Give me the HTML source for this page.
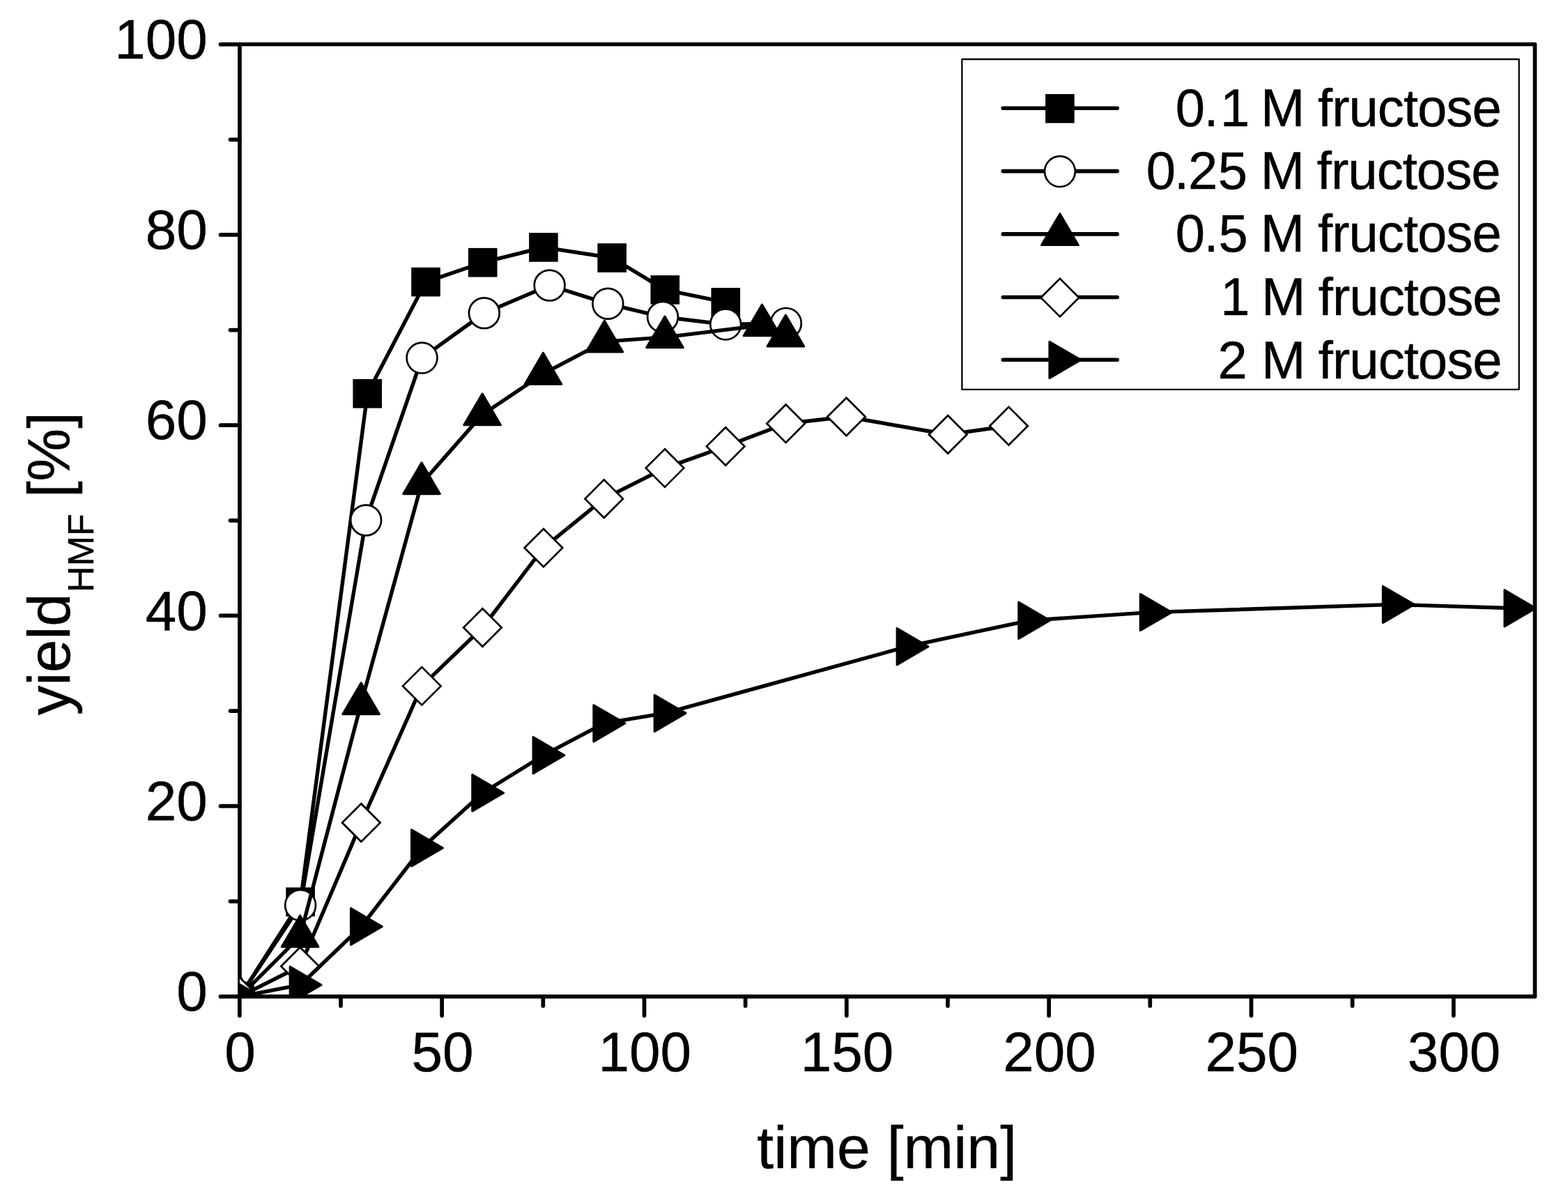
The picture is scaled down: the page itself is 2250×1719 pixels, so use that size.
<!DOCTYPE html>
<html><head><meta charset="utf-8"><title>HMF yield vs time</title>
<style>
html,body{margin:0;padding:0;background:#fff;}
svg{display:block;}
text{font-family:"Liberation Sans",Arial,sans-serif;fill:#000;stroke:#000;stroke-width:0.45px;}
</style></head><body>
<svg width="2250" height="1719" viewBox="0 0 2250 1719">
<rect x="0" y="0" width="2250" height="1719" fill="#fff"/>
<defs><clipPath id="pc"><rect x="344" y="64" width="1858" height="1366"/></clipPath></defs>

<rect x="343.95" y="63.5" width="1858.55" height="1366.4" fill="none" stroke="#000" stroke-width="5.7" stroke-linejoin="round"/>
<path d="M343.8 1429.9V1457.3M634.13 1429.9V1457.3M924.47 1429.9V1457.3M1214.81 1429.9V1457.3M1505.14 1429.9V1457.3M1795.47 1429.9V1457.3M2085.81 1429.9V1457.3M488.97 1429.9V1443.3M779.3 1429.9V1443.3M1069.64 1429.9V1443.3M1359.97 1429.9V1443.3M1650.31 1429.9V1443.3M1940.64 1429.9V1443.3M343.95 1429.9H316.55M343.95 1156.66H316.55M343.95 883.42H316.55M343.95 610.18H316.55M343.95 336.94H316.55M343.95 63.7H316.55M343.95 1293.28H330.55M343.95 1020.04H330.55M343.95 746.8H330.55M343.95 473.56H330.55M343.95 200.32H330.55" fill="none" stroke="#000" stroke-width="5.7" stroke-linecap="round"/>
<g clip-path="url(#pc)">
<polyline fill="none" stroke="#000" stroke-width="5.4" stroke-linejoin="round" stroke-linecap="round" points="344,1430 431.1,1294.2 527.2,564.8 611,404.6 692.7,376.7 779.9,354.9 878.2,370 954.3,415.9 1041.3,433.8"/>
<g fill="#000"><rect x="323.2" y="1409.2" width="41.6" height="41.6"/><rect x="410.3" y="1273.4" width="41.6" height="41.6"/><rect x="506.4" y="544" width="41.6" height="41.6"/><rect x="590.2" y="383.8" width="41.6" height="41.6"/><rect x="671.9" y="355.9" width="41.6" height="41.6"/><rect x="759.1" y="334.1" width="41.6" height="41.6"/><rect x="857.4" y="349.2" width="41.6" height="41.6"/><rect x="933.5" y="395.1" width="41.6" height="41.6"/><rect x="1020.5" y="413" width="41.6" height="41.6"/></g>
<polyline fill="none" stroke="#000" stroke-width="5.4" stroke-linejoin="round" stroke-linecap="round" points="344,1430 431.1,1298.9 525.1,746.5 605.5,513.6 694.8,449.3 788.6,409.5 872.3,435.8 951,454.8 1041.2,465.4 1127.9,463.9"/>
<g fill="#fff" stroke="#000" stroke-width="2.7"><circle cx="344" cy="1430" r="21.9"/><circle cx="431.1" cy="1298.9" r="21.9"/><circle cx="525.1" cy="746.5" r="21.9"/><circle cx="605.5" cy="513.6" r="21.9"/><circle cx="694.8" cy="449.3" r="21.9"/><circle cx="788.6" cy="409.5" r="21.9"/><circle cx="872.3" cy="435.8" r="21.9"/><circle cx="951" cy="454.8" r="21.9"/><circle cx="1041.2" cy="465.4" r="21.9"/><circle cx="1127.9" cy="463.9" r="21.9"/></g>
<polyline fill="none" stroke="#000" stroke-width="5.4" stroke-linejoin="round" stroke-linecap="round" points="344,1430 430.6,1343.6 518.1,1009.8 605,693.7 692.1,594.9 779.4,536.3 867.4,490.1 954,483.9 1093.5,466.9 1127.4,482"/>
<g fill="#000" stroke="#000" stroke-width="3" stroke-linejoin="round"><polygon points="344,1400.07 370.3,1444.97 317.7,1444.97"/><polygon points="430.6,1313.67 456.9,1358.57 404.3,1358.57"/><polygon points="518.1,979.87 544.4,1024.77 491.8,1024.77"/><polygon points="605,663.77 631.3,708.67 578.7,708.67"/><polygon points="692.1,564.97 718.4,609.87 665.8,609.87"/><polygon points="779.4,506.37 805.7,551.27 753.1,551.27"/><polygon points="867.4,460.17 893.7,505.07 841.1,505.07"/><polygon points="954,453.97 980.3,498.87 927.7,498.87"/><polygon points="1093.5,436.97 1119.8,481.87 1067.2,481.87"/><polygon points="1127.4,452.07 1153.7,496.97 1101.1,496.97"/></g>
<polyline fill="none" stroke="#000" stroke-width="5.4" stroke-linejoin="round" stroke-linecap="round" points="344,1430 430.6,1386.5 518.3,1180.5 605.3,984.4 692.4,900.5 779.9,786.1 866.7,715.7 954,671.6 1041.2,640.5 1127.6,607.8 1214.5,598 1360.2,623.5 1447.5,611.2"/>
<g fill="#fff" stroke="#000" stroke-width="2.7" stroke-linejoin="miter"><polygon points="344,1402.7 371.3,1430 344,1457.3 316.7,1430"/><polygon points="430.6,1359.2 457.9,1386.5 430.6,1413.8 403.3,1386.5"/><polygon points="518.3,1153.2 545.6,1180.5 518.3,1207.8 491,1180.5"/><polygon points="605.3,957.1 632.6,984.4 605.3,1011.7 578,984.4"/><polygon points="692.4,873.2 719.7,900.5 692.4,927.8 665.1,900.5"/><polygon points="779.9,758.8 807.2,786.1 779.9,813.4 752.6,786.1"/><polygon points="866.7,688.4 894,715.7 866.7,743 839.4,715.7"/><polygon points="954,644.3 981.3,671.6 954,698.9 926.7,671.6"/><polygon points="1041.2,613.2 1068.5,640.5 1041.2,667.8 1013.9,640.5"/><polygon points="1127.6,580.5 1154.9,607.8 1127.6,635.1 1100.3,607.8"/><polygon points="1214.5,570.7 1241.8,598 1214.5,625.3 1187.2,598"/><polygon points="1360.2,596.2 1387.5,623.5 1360.2,650.8 1332.9,623.5"/><polygon points="1447.5,583.9 1474.8,611.2 1447.5,638.5 1420.2,611.2"/></g>
<polyline fill="none" stroke="#000" stroke-width="5.4" stroke-linejoin="round" stroke-linecap="round" points="344,1430 431.1,1413.2 518.4,1329.5 605.5,1216.8 692.7,1137.8 780,1083.7 866.8,1037.9 954.1,1023.4 1302.1,927.7 1476.7,890.3 1651.2,878.6 1999.3,867.4 2173.9,872.7"/>
<g fill="#000" stroke="#000" stroke-width="3" stroke-linejoin="round"><polygon points="329.03,1403.8 373.93,1430 329.03,1456.2"/><polygon points="416.13,1387 461.03,1413.2 416.13,1439.4"/><polygon points="503.43,1303.3 548.33,1329.5 503.43,1355.7"/><polygon points="590.53,1190.6 635.43,1216.8 590.53,1243"/><polygon points="677.73,1111.6 722.63,1137.8 677.73,1164"/><polygon points="765.03,1057.5 809.93,1083.7 765.03,1109.9"/><polygon points="851.83,1011.7 896.73,1037.9 851.83,1064.1"/><polygon points="939.13,997.2 984.03,1023.4 939.13,1049.6"/><polygon points="1287.13,901.5 1332.03,927.7 1287.13,953.9"/><polygon points="1461.73,864.1 1506.63,890.3 1461.73,916.5"/><polygon points="1636.23,852.4 1681.13,878.6 1636.23,904.8"/><polygon points="1984.33,841.2 2029.23,867.4 1984.33,893.6"/><polygon points="2158.93,846.5 2203.83,872.7 2158.93,898.9"/></g>
</g>
<g font-size="80"><text x="344.6" y="1536.8" text-anchor="middle">0</text><text x="634.93" y="1536.8" text-anchor="middle">50</text><text x="925.27" y="1536.8" text-anchor="middle">100</text><text x="1215.61" y="1536.8" text-anchor="middle">150</text><text x="1505.94" y="1536.8" text-anchor="middle">200</text><text x="1796.27" y="1536.8" text-anchor="middle">250</text><text x="2086.61" y="1536.8" text-anchor="middle">300</text><text x="297.7" y="1450" text-anchor="end">0</text><text x="297.7" y="1176.76" text-anchor="end">20</text><text x="297.7" y="903.52" text-anchor="end">40</text><text x="297.7" y="630.28" text-anchor="end">60</text><text x="297.7" y="357.04" text-anchor="end">80</text><text x="297.7" y="83.8" text-anchor="end">100</text></g>
<text x="1086.3" y="1675.5" font-size="86">time [min]</text>
<text transform="translate(99.8 1026.3) rotate(-90)" x="0" y="0" font-size="85">yield</text>
<text transform="translate(134.2 845.8) rotate(-90)" x="-4.1" y="0" font-size="52">HMF</text>
<text transform="translate(99.8 708) rotate(-90)" x="-6" y="0" font-size="85">[%]</text>
<rect x="1380.4" y="85" width="799.3" height="473.8" fill="none" stroke="#000" stroke-width="2.3" stroke-linejoin="round"/>
<path d="M1439.3 155.2H1603.2" stroke="#000" stroke-width="5.6" stroke-linecap="round"/>
<g fill="#000"><rect x="1500.1" y="135" width="41.6" height="41.6"/></g>
<path d="M1439.3 245.6H1603.2" stroke="#000" stroke-width="5.6" stroke-linecap="round"/>
<g fill="#fff" stroke="#000" stroke-width="2.7"><circle cx="1520.9" cy="246.1" r="21.9"/></g>
<path d="M1439.3 335.9H1603.2" stroke="#000" stroke-width="5.6" stroke-linecap="round"/>
<g fill="#000" stroke="#000" stroke-width="3" stroke-linejoin="round"><polygon points="1520.9,306.67 1547.2,351.57 1494.6,351.57"/></g>
<path d="M1439.3 426.5H1603.2" stroke="#000" stroke-width="5.6" stroke-linecap="round"/>
<g fill="#fff" stroke="#000" stroke-width="2.7" stroke-linejoin="miter"><polygon points="1520.9,399.8 1548.2,427.1 1520.9,454.4 1493.6,427.1"/></g>
<path d="M1439.3 516.2H1603.2" stroke="#000" stroke-width="5.6" stroke-linecap="round"/>
<g fill="#000" stroke="#000" stroke-width="3" stroke-linejoin="round"><polygon points="1505.93,490.2 1550.83,516.4 1505.93,542.6"/></g>
<g font-size="76"><text x="1686.8 1727.4 1751" y="180.8">0.1</text><text x="1644.7 1685.1 1705.1 1747.8" y="271.2">0.25</text><text x="1686.7 1727.4 1748.6" y="361">0.5</text><text x="1751.3" y="452.4">1</text><text x="1747.6" y="542.8">2</text><text x="1809.1" y="180.8">M</text><text x="1891" y="180.8" letter-spacing="-0.95">fructose</text><text x="1808.7" y="271.2">M</text><text x="1889.8" y="271.2" letter-spacing="-0.95">fructose</text><text x="1808.7" y="361">M</text><text x="1891" y="361" letter-spacing="-0.95">fructose</text><text x="1810.1" y="452.4">M</text><text x="1891.8" y="452.4" letter-spacing="-0.95">fructose</text><text x="1810.1" y="542.8">M</text><text x="1891.8" y="542.8" letter-spacing="-0.95">fructose</text></g>
</svg>
</body></html>
